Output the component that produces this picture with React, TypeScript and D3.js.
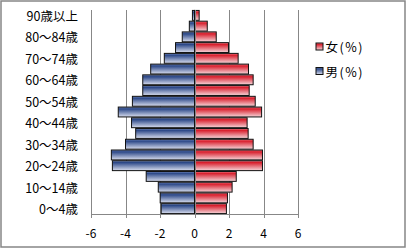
import React from "react";
import * as d3 from "d3";

const categories = [
  "0～4歳", "5～9歳", "10～14歳", "15～19歳", "20～24歳", "25～29歳", "30～34歳",
  "35～39歳", "40～44歳", "45～49歳", "50～54歳", "55～59歳", "60～64歳", "65～69歳",
  "70～74歳", "75～79歳", "80～84歳", "85～89歳", "90歳以上",
];
const maleValues = [
  -1.93, -1.99, -2.1, -2.8, -4.76, -4.82, -4.0, -3.41, -3.65, -4.42,
  -3.6, -3.0, -3.0, -2.54, -1.75, -1.1, -0.71, -0.3, -0.12,
];
const femaleValues = [
  1.85, 1.91, 2.18, 2.42, 3.94, 3.94, 3.4, 3.11, 3.05, 3.89,
  3.52, 3.17, 3.4, 3.13, 2.53, 1.97, 1.26, 0.74, 0.27,
];
const xTicks = [-6, -4, -2, 0, 2, 4, 6];
const seriesNames = ["女(%)", "男(%)"];

const W = 407;
const H = 249;
const plot = { left: 91, right: 298, top: 10, bottom: 214 };
const font = "'Noto Sans CJK JP', 'Noto Sans', sans-serif";

export default function App() {
  const x = d3.scaleLinear().domain([-6, 6]).range([plot.left, plot.right]);
  const y = d3
    .scaleBand<string>()
    .domain([...categories].reverse())
    .range([plot.top, plot.bottom])
    .paddingInner(0.08)
    .paddingOuter(0.04);

  const gridColor = "#878787";

  return (
    <svg
      width={W}
      height={H}
      style={{ position: "fixed", left: 0, top: 0, background: "#fff" }}
      fontFamily={font}
    >
      <defs>
        <linearGradient id="gBlue" x1="0" y1="0" x2="0" y2="1">
          <stop offset="0" stopColor="#7f93c4" />
          <stop offset="0.18" stopColor="#2b4787" />
          <stop offset="1" stopColor="#d9deef" />
        </linearGradient>
        <linearGradient id="gRed" x1="0" y1="0" x2="0" y2="1">
          <stop offset="0" stopColor="#ee8a92" />
          <stop offset="0.18" stopColor="#d81e2c" />
          <stop offset="1" stopColor="#f6d6da" />
        </linearGradient>
      </defs>
      <rect x={1} y={1} width={404} height={246} fill="#fff" stroke="#868686" strokeWidth={1.5} />

      {xTicks
        .filter((t) => t !== 0)
        .map((t) => (
          <line
            key={"g" + t}
            x1={Math.round(x(t)) + 0.5}
            x2={Math.round(x(t)) + 0.5}
            y1={plot.top}
            y2={plot.bottom}
            stroke={gridColor}
            strokeWidth={1}
          />
        ))}

      {categories.map((c, i) => {
        const yy = y(c)!;
        const h = y.bandwidth();
        const m = maleValues[i];
        const f = femaleValues[i];
        return (
          <g key={c}>
            <rect
              x={x(m)}
              y={yy}
              width={x(0) - x(m)}
              height={h}
              fill="url(#gBlue)"
              stroke="#111"
              strokeWidth={1}
            />
            <rect
              x={x(0)}
              y={yy}
              width={x(f) - x(0)}
              height={h}
              fill="url(#gRed)"
              stroke="#111"
              strokeWidth={1}
            />
          </g>
        );
      })}

      <line
        x1={Math.round(x(0)) + 0.5}
        x2={Math.round(x(0)) + 0.5}
        y1={plot.top}
        y2={plot.bottom}
        stroke={gridColor}
        strokeWidth={1}
      />
      <line
        x1={plot.left}
        x2={plot.right + 1}
        y1={plot.bottom + 0.5}
        y2={plot.bottom + 0.5}
        stroke={gridColor}
        strokeWidth={1}
      />
      {xTicks.map((t) => (
        <g key={"t" + t}>
          <line
            x1={Math.round(x(t)) + 0.5}
            x2={Math.round(x(t)) + 0.5}
            y1={plot.bottom}
            y2={plot.bottom + 4}
            stroke={gridColor}
          />
          <text
            x={x(t)}
            y={232}
            textAnchor="middle"
            dominantBaseline="central"
            fontSize={12}
            fill="#000"
          >
            {t}
          </text>
        </g>
      ))}

      {categories.map((c, i) =>
        i % 2 === 0 ? (
          <text
            key={"l" + c}
            x={78}
            y={y(c)! + y.bandwidth() / 2}
            textAnchor="end"
            dominantBaseline="central"
            fontSize={12.5}
            fill="#000"
          >
            {c}
          </text>
        ) : null
      )}

      {seriesNames.map((s, i) => (
        <g key={s} transform={`translate(316, ${43 + i * 24.5})`}>
          <rect
            x={0}
            y={0}
            width={7}
            height={7}
            fill={i === 0 ? "url(#gRed)" : "url(#gBlue)"}
            stroke="#111"
            strokeWidth={1}
          />
          <text
            x={9.5}
            y={3.5}
            dominantBaseline="central"
            fontSize={12.5}
            letterSpacing={1.5}
            fill="#000"
          >
            {s}
          </text>
        </g>
      ))}
    </svg>
  );
}
